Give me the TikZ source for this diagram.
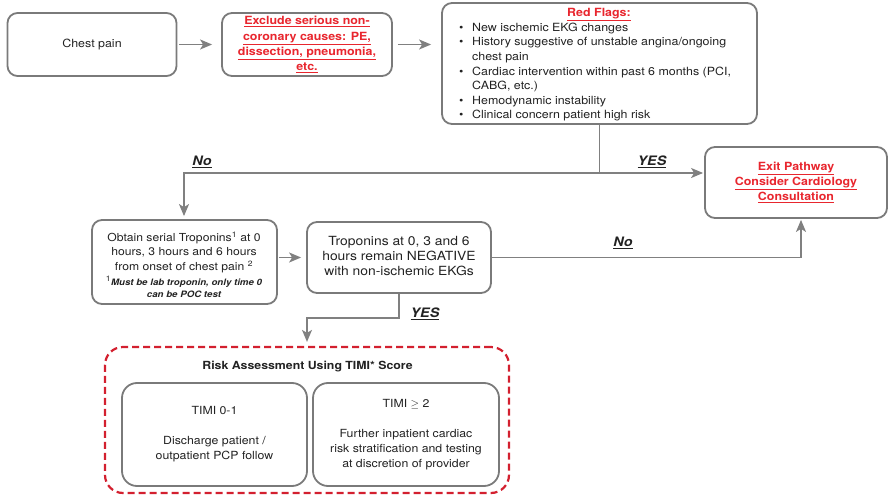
\documentclass[tikz,border=0pt]{standalone}
\usepackage{fontspec}
\setmainfont{TeX Gyre Heros}[FakeStretch=1.1]
\usetikzlibrary{arrows.meta}
\definecolor{cbord}{HTML}{7A7A7A}
\definecolor{cconn}{HTML}{808080}
\definecolor{cred}{HTML}{E8262E}
\definecolor{cdash}{HTML}{D3202F}
\definecolor{ctxt}{HTML}{222222}
\newcommand{\myul}[1]{\underline{#1}}
\begin{document}
\begin{tikzpicture}[x=1pt,y=-1pt,
  box/.style={draw=cbord, line width=1.8pt, rounded corners=10pt, inner sep=0pt, text=ctxt, align=center},
  conn/.style={draw=cconn, line width=1.5pt},
  arr/.style={conn, -{Stealth[length=12pt,width=10pt,inset=3pt]}},
  lab/.style={font=\fontsize{13}{15}\selectfont\bfseries\itshape, text=ctxt, inner sep=0pt},
  redb/.style={font=\fontsize{11.3}{15.3}\selectfont\bfseries, text=cred},
  normtxt/.style={font=\fontsize{11.3}{14.6}\selectfont, text=ctxt}
]
\useasboundingbox (0,0) rectangle (889,497);

% top row
\node[box, normtxt, minimum width=169pt, minimum height=63pt] (chest) at (92,44.5) {Chest pain};
\node[box, redb, minimum width=170pt, minimum height=63pt] (excl) at (307,44.5)
  {\myul{Exclude serious non-}\\\myul{coronary causes: PE,}\\\myul{dissection, pneumonia,}\\\myul{etc.}};
\node[box, minimum width=315pt, minimum height=121pt] (rf) at (599.5,63.5) {};
\node[redb, inner sep=0pt] (rftitle) at (599,14.5) {\myul{Red Flags:}};
\node[normtxt, anchor=north west, inner sep=0pt] (rflist) at (459,20.8)
  {\begin{tabular}[t]{@{}p{13pt}@{}l@{}}
   \textbullet & New ischemic EKG changes\\
   \textbullet & History suggestive of unstable angina/ongoing\\
               & chest pain\\
   \textbullet & Cardiac intervention within past 6 months (PCI,\\
               & CABG, etc.)\\
   \textbullet & Hemodynamic instability\\
   \textbullet & Clinical concern patient high risk
   \end{tabular}};

% exit
\node[box, redb, font=\fontsize{11.3}{15}\selectfont\bfseries, minimum width=182pt, minimum height=71pt] (exit) at (796,182.5)
  {\myul{Exit Pathway}\\\myul{Consider Cardiology}\\\myul{Consultation}};

% middle row
\node[box, minimum width=185pt, minimum height=84pt] (obtain) at (184.5,262) {};
\node[font=\fontsize{11.05}{14.5}\selectfont, text=ctxt, align=center, inner sep=0pt] (obtaintxt) at (184,252)
  {Obtain serial Troponins\textsuperscript{1} at 0\\hours, 3 hours and 6 hours\\from onset of chest pain \textsuperscript{2}};
\node[font=\fontsize{8.8}{12}\selectfont\bfseries\itshape, text=ctxt, align=center, inner sep=0pt] (obtainnote) at (184,286.5)
  {{\normalfont\fontsize{11}{12}\selectfont\textsuperscript{1}}Must be lab troponin, only time 0\\can be POC test};
\node[box, minimum width=184pt, minimum height=71pt] (trop) at (399,257.5) {};
\node[font=\fontsize{12.6}{15}\selectfont, text=ctxt, align=center, inner sep=0pt] (troptxt) at (399,256)
  {Troponins at 0, 3 and 6\\hours remain NEGATIVE\\with non-ischemic EKGs};

% risk assessment
\node[draw=cdash, line width=2.2pt, dash pattern=on 7pt off 4pt, rounded corners=18pt,
      minimum width=404pt, minimum height=146pt, inner sep=0pt] (risk) at (307,420) {};
\node[font=\fontsize{11.2}{14}\selectfont\bfseries, text=ctxt, inner sep=0pt] (risktitle) at (307.5,367)
  {Risk Assessment Using TIMI* Score};
\node[box, rounded corners=15pt, font=\fontsize{11.2}{15}\selectfont, minimum width=185pt, minimum height=103pt] (low) at (214.5,434.5)
  {TIMI 0-1\\[15pt]Discharge patient /\\outpatient PCP follow};
\node[box, rounded corners=15pt, font=\fontsize{11.2}{15}\selectfont, minimum width=186pt, minimum height=103pt] (high) at (406,434.5)
  {TIMI $\geq$ 2\\[15pt]Further inpatient cardiac\\risk stratification and testing\\at discretion of provider};

% connectors
\coordinate (split) at (599.5,173);
\coordinate (nocorner) at (184,173);
\coordinate (ncorner) at (801,257.5);
\coordinate (y1) at (399,318);
\coordinate (y2) at (307,318);

\draw[arr, shorten <=2pt, shorten >=9pt] (chest.east) -- (excl.west);
\draw[arr, shorten <=5pt, shorten >=10pt] (excl.east) -- (excl.east -| rf.west);
\draw[conn] (rf.south) -- (split);
\draw[arr, shorten >=1pt] (split) -- (split -| exit.west);
\draw[arr, shorten >=3pt] (split) -- (nocorner) -- (nocorner |- obtain.north);
\draw[arr, shorten <=1pt, shorten >=5pt] (obtain.east |- trop) -- (trop.west);
\draw[arr, shorten >=1pt] (trop.east) -- (ncorner) -- (ncorner |- exit.south);
\draw[arr, shorten >=4pt] (trop.south) -- (y1) -- (y2) -- (y2 |- risk.north);

% labels
\node[lab] (lno1) at (202,162) {\myul{No}};
\node[lab] (lyes1) at (652,162) {\myul{YES}};
\node[lab] (lno2) at (623,243) {\myul{No}};
\node[lab] (lyes2) at (425,314) {\myul{YES}};
\end{tikzpicture}
\end{document}
